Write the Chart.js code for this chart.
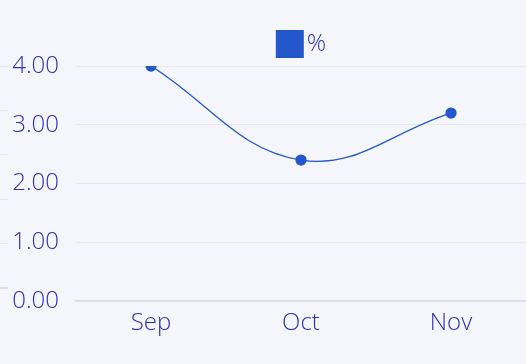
<!DOCTYPE html>
<html><head><meta charset="utf-8">
<script src="https://cdn.jsdelivr.net/npm/chart.js@4"></script>
<style>html,body{margin:0;padding:0;background:#f5f6fc;}#c{display:block;}</style>
</head><body>
<canvas id="c" width="526" height="364"></canvas>
<script>
const categories = ['Sep', 'Oct', 'Nov'];
const seriesName = '%';
const values = [4.00, 2.40, 3.20];
const yTickValues = [0, 1, 2, 3, 4];
const sideTickValues = [0, 1, 2, 3, 4, 5];

const FONT = "'Open Sans', 'Noto Sans', sans-serif";
const TXT = '#2f2fb8';
const BLUE = '#2456cc';

const legendPlace = {
  id: 'legendPlace',
  beforeDraw(chart) {
    const lg = chart.legend;
    if (lg) { lg.left = chart.chartArea.left + 9; lg.right = chart.chartArea.right; }
  }
};

new Chart(document.getElementById('c'), {
  type: 'line',
  data: {
    labels: categories,
    datasets: [{
      label: seriesName,
      data: values,
      borderColor: BLUE,
      backgroundColor: BLUE,
      borderWidth: 1.3,
      tension: 0.4,
      pointRadius: 5,
      pointBackgroundColor: BLUE,
      pointBorderColor: BLUE,
      fill: false,
      yAxisID: 'y'
    }]
  },
  options: {
    responsive: false,
    animation: false,
    layout: { autoPadding: false, padding: { top: 24, left: 0, right: 0, bottom: 26 } },
    plugins: {
      tooltip: { enabled: false },
      legend: {
        position: 'top',
        labels: {
          boxWidth: 10, boxHeight: 10, padding: 8,
          color: TXT,
          font: { family: FONT, size: 24, weight: 300 },
          generateLabels(chart) {
            return Chart.defaults.plugins.legend.labels.generateLabels(chart)
              .map(l => Object.assign(l, { lineWidth: 18, fillStyle: BLUE, strokeStyle: BLUE }));
          }
        }
      }
    },
    scales: {
      x: {
        offset: true,
        afterFit(s) { s.paddingLeft = 0; s.paddingRight = 0; },
        grid: { display: false },
        border: { display: true, color: '#d9d9f2', width: 1.5 },
        ticks: { color: TXT, padding: 0, font: { family: FONT, size: 24, weight: 300 } }
      },
      y: {
        position: 'left',
        weight: 0,
        min: 0, max: 4,
        afterBuildTicks(s) { s.ticks = yTickValues.map(v => ({ value: v })); },
        afterFit(s) { s.width = 68; },
        grid: { color: '#e6e8f5', lineWidth: 1, drawTicks: false },
        border: { display: false },
        ticks: {
          color: TXT, padding: 17,
          font: { family: FONT, size: 24, weight: 300 },
          callback: v => Number(v).toFixed(2)
        }
      },
      y2: {
        position: 'left',
        weight: 1,
        min: -0.3, max: 5,
        afterBuildTicks(s) { s.ticks = sideTickValues.map(v => ({ value: v })); },
        afterFit(s) { s.width = 8; },
        grid: {
          drawOnChartArea: false, drawTicks: true, tickLength: 8,
          color: ctx => (ctx.tick && ctx.tick.value === 0) ? '#dcdcf0' : '#e6e8f5',
          lineWidth: ctx => (ctx.tick && ctx.tick.value === 0) ? 2 : 1
        },
        border: { display: false },
        ticks: { display: false }
      }
    }
  },
  plugins: [legendPlace]
});
</script>
</body></html>
